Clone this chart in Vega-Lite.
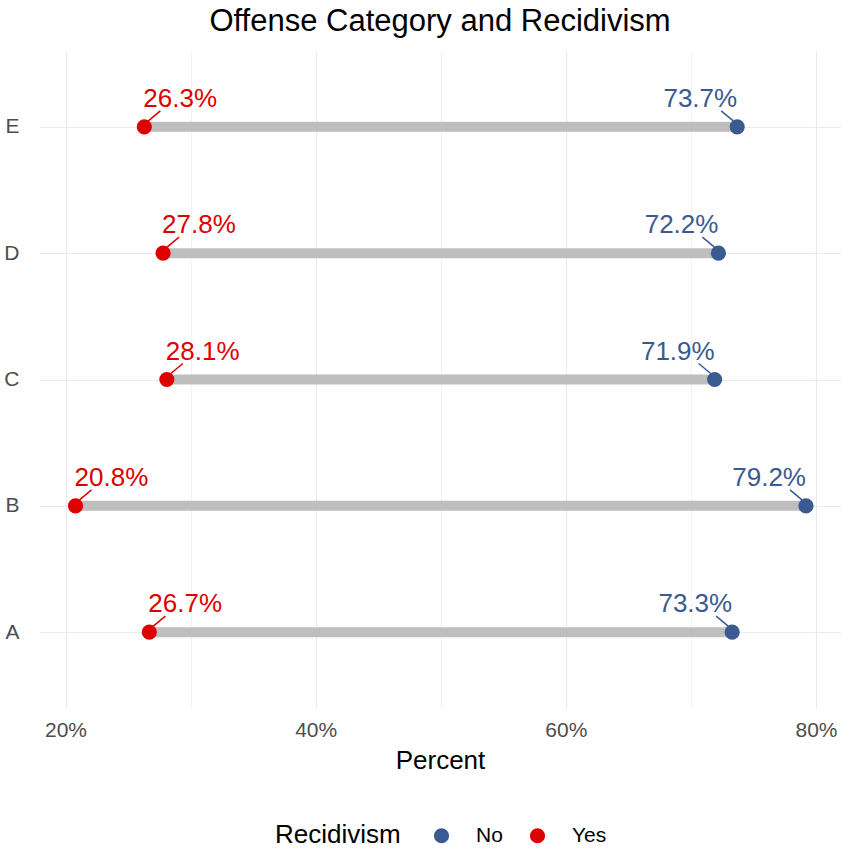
{
  "$schema": "https://vega.github.io/schema/vega-lite/v6.json",
  "width": 802,
  "height": 657,
  "autosize": {"type": "none"},
  "padding": {"left": 39, "top": 51, "right": 0, "bottom": 142},
  "background": "white",
  "title": {
    "text": "Offense Category and Recidivism",
    "anchor": "middle",
    "frame": "group",
    "fontSize": 31,
    "fontWeight": "normal",
    "font": "Liberation Sans",
    "color": "black",
    "baseline": "alphabetic",
    "offset": 20,
    "dy": 31
  },
  "config": {
    "font": "Liberation Sans",
    "view": {"stroke": null},
    "axisX": {
      "grid": true,
      "gridColor": "#EBEBEB",
      "gridWidth": 1.1,
      "ticks": false,
      "domain": false,
      "labelFontSize": 21,
      "labelColor": "#4D4D4D",
      "labelPadding": 11,
      "titleFontSize": 26,
      "titleFontWeight": "normal",
      "titleColor": "black",
      "titlePadding": 7
    },
    "axisY": {
      "grid": true,
      "gridColor": "#EBEBEB",
      "gridWidth": 1.1,
      "ticks": false,
      "domain": false,
      "labelFontSize": 21,
      "labelColor": "#4D4D4D",
      "labelPadding": 20
    }
  },
  "data": {
    "values": [
      {"cat": "A", "recid": "Yes", "pct": 26.7, "lab": "26.7%"},
      {"cat": "A", "recid": "No", "pct": 73.3, "lab": "73.3%"},
      {"cat": "B", "recid": "Yes", "pct": 20.8, "lab": "20.8%"},
      {"cat": "B", "recid": "No", "pct": 79.2, "lab": "79.2%"},
      {"cat": "C", "recid": "Yes", "pct": 28.1, "lab": "28.1%"},
      {"cat": "C", "recid": "No", "pct": 71.9, "lab": "71.9%"},
      {"cat": "D", "recid": "Yes", "pct": 27.8, "lab": "27.8%"},
      {"cat": "D", "recid": "No", "pct": 72.2, "lab": "72.2%"},
      {"cat": "E", "recid": "Yes", "pct": 26.3, "lab": "26.3%"},
      {"cat": "E", "recid": "No", "pct": 73.7, "lab": "73.7%"}
    ]
  },
  "layer": [
    {
      "mark": {"type": "rule", "strokeWidth": 10, "color": "#BEBEBE"},
      "encoding": {
        "x": {
          "aggregate": "min",
          "field": "pct",
          "type": "quantitative",
          "title": "Percent",
          "scale": {"domain": [17.88, 82.0], "nice": false, "zero": false},
          "axis": {
            "values": [20, 30, 40, 50, 60, 70, 80],
            "labelExpr": "datum.value % 20 === 0 ? datum.value + '%' : ''",
            "gridWidth": {"condition": {"test": "datum.value % 20 === 0", "value": 1.1}, "value": 0.6}
          }
        },
        "x2": {"aggregate": "max", "field": "pct"},
        "y": {
          "field": "cat",
          "type": "nominal",
          "title": null,
          "sort": "descending",
          "scale": {"type": "point", "padding": 0.6}
        }
      }
    },
    {
      "transform": [{"filter": "datum.recid === 'Yes'"}],
      "mark": {"type": "rule", "strokeWidth": 1.5, "color": "#DD0000", "xOffset": 4, "x2Offset": 16, "yOffset": -6, "y2Offset": -16},
      "encoding": {
        "x": {"field": "pct", "type": "quantitative"},
        "x2": {"field": "pct"},
        "y": {"field": "cat", "type": "nominal", "sort": "descending"},
        "y2": {"field": "cat"}
      }
    },
    {
      "transform": [{"filter": "datum.recid === 'No'"}],
      "mark": {"type": "rule", "strokeWidth": 1.5, "color": "#3B5A91", "xOffset": -4, "x2Offset": -16, "yOffset": -6, "y2Offset": -16},
      "encoding": {
        "x": {"field": "pct", "type": "quantitative"},
        "x2": {"field": "pct"},
        "y": {"field": "cat", "type": "nominal", "sort": "descending"},
        "y2": {"field": "cat"}
      }
    },
    {
      "mark": {"type": "point", "filled": true, "opacity": 1, "size": 230, "shape": "circle"},
      "encoding": {
        "x": {"field": "pct", "type": "quantitative"},
        "y": {"field": "cat", "type": "nominal", "sort": "descending"},
        "color": {
          "field": "recid",
          "type": "nominal",
          "scale": {"domain": ["No", "Yes"], "range": ["#3B5A91", "#DD0000"]},
          "legend": {
            "orient": "none",
            "legendX": 236,
            "legendY": 774,
            "direction": "horizontal",
            "title": "Recidivism",
            "titleOrient": "left",
            "titleFontSize": 26,
            "titleFontWeight": "normal",
            "titleColor": "black",
            "titlePadding": 30,
            "labelFontSize": 21,
            "labelColor": "black",
            "labelOffset": 24,
            "columnPadding": 24,
            "symbolSize": 230,
            "symbolType": "circle",
            "symbolStrokeWidth": 0
          }
        }
      }
    },
    {
      "transform": [{"filter": "datum.recid === 'Yes'"}],
      "mark": {"type": "text", "align": "left", "baseline": "alphabetic", "dx": -1, "dy": -20, "fontSize": 26},
      "encoding": {
        "x": {"field": "pct", "type": "quantitative"},
        "y": {"field": "cat", "type": "nominal", "sort": "descending"},
        "text": {"field": "lab"},
        "color": {"field": "recid", "type": "nominal", "legend": null}
      }
    },
    {
      "transform": [{"filter": "datum.recid === 'No'"}],
      "mark": {"type": "text", "align": "right", "baseline": "alphabetic", "dx": 0, "dy": -20, "fontSize": 26},
      "encoding": {
        "x": {"field": "pct", "type": "quantitative"},
        "y": {"field": "cat", "type": "nominal", "sort": "descending"},
        "text": {"field": "lab"},
        "color": {"field": "recid", "type": "nominal", "legend": null}
      }
    }
  ]
}
